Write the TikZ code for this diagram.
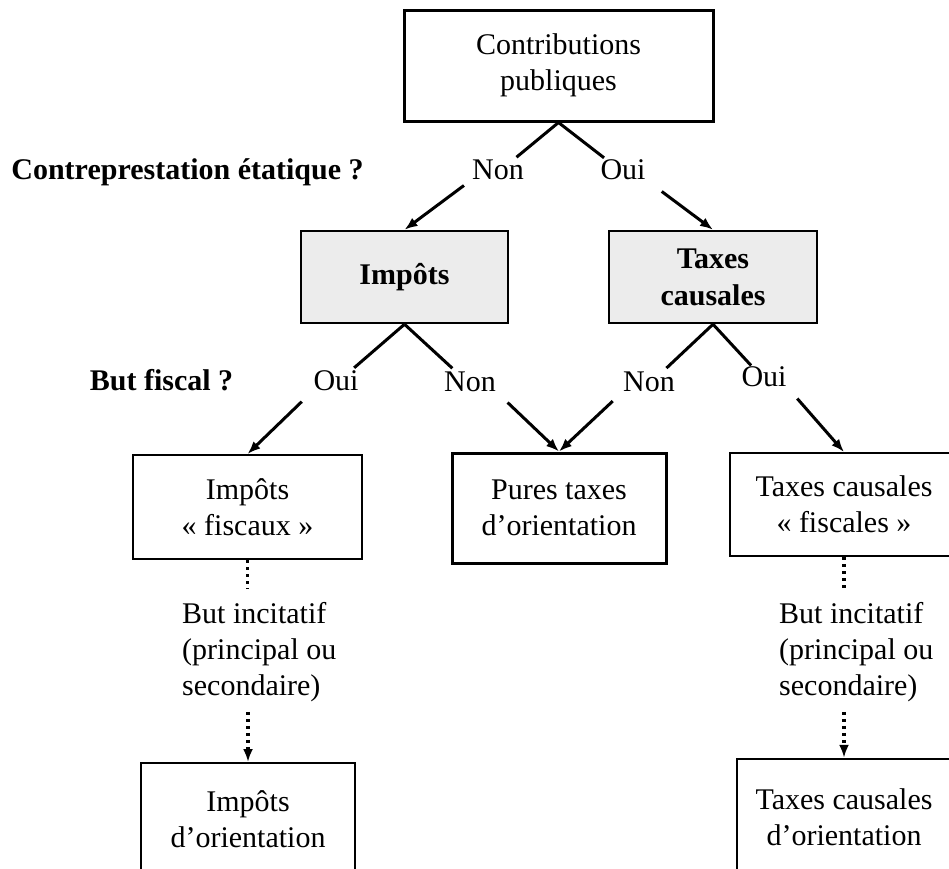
\documentclass[tikz,border=0pt]{standalone}
\usepackage{fontspec}
\setmainfont{Liberation Serif}
\usetikzlibrary{arrows.meta}

\begin{document}
\begin{tikzpicture}[x=1pt,y=-1pt,>={Latex[length=13pt,width=10pt]},
    font=\fontsize{30}{36}\selectfont,
    box/.style={draw,line width=2pt,align=center,inner sep=0pt},
    greybox/.style={box,line width=2.5pt,fill=gray!15,font=\fontsize{30}{37}\selectfont\bfseries},
    lab/.style={inner sep=0pt,text height=0.66em,text depth=0pt},
    question/.style={lab,font=\fontsize{30}{36}\selectfont\bfseries},
    branch/.style={line width=3pt,shorten >=24pt},
    arr/.style={->,line width=3pt},
    dots/.style={line width=3.5pt,dash pattern=on 3pt off 4pt}]
    \useasboundingbox (0,0) rectangle (949,868);
    \clip (0,0) rectangle (949,868);
    % boxes
    \node[box,line width=3pt,minimum width=309pt,minimum height=111pt] (cp) at (558.5,65.5) {Contributions\\publiques};
    \node[greybox,minimum width=207pt,minimum height=92pt] (imp) at (404.5,277) {Impôts};
    \node[greybox,minimum width=208pt,minimum height=92pt] (tax) at (713,277) {Taxes\\causales};
    \node[box,minimum width=229pt,minimum height=104pt] (impf) at (247.5,507) {Impôts\\« fiscaux »};
    \node[box,line width=3pt,minimum width=214pt,minimum height=110pt] (pure) at (559,508) {Pures taxes\\d’orientation};
    \node[box,minimum width=228pt,minimum height=103pt] (taxf) at (844,504.5) {Taxes causales\\« fiscales »};
    \node[box,minimum width=214pt,minimum height=112pt] (impo) at (248,819) {Impôts\\d’orientation};
    \node[box,line width=2.5pt,minimum width=214pt,minimum height=116pt] (taxo) at (844,817) {Taxes causales\\d’orientation};
    % questions and answers
    \node[question] (q1) at (187.5,176) {Contreprestation étatique ?};
    \node[lab] (n1) at (498,176) {Non};
    \node[lab] (o1) at (623,176) {Oui};
    \node[question] (q2) at (161.5,387) {But fiscal ?};
    \node[lab] (o2) at (336,387) {Oui};
    \node[lab] (n2) at (470,388) {Non};
    \node[lab] (n3) at (649,388) {Non};
    \node[lab] (o3) at (764,383) {Oui};
    \node[align=left,anchor=west,inner sep=0pt] (inc1) at (182,652) {But incitatif\\(principal ou\\secondaire)};
    \node[align=left,anchor=west,inner sep=0pt] (inc2) at (779,652) {But incitatif\\(principal ou\\secondaire)};
    % connectors
    \draw[branch] (cp.south) -- (n1.north);
    \draw[branch] (cp.south) -- (o1.north);
    \draw[arr,shorten <=10pt] (n1.south west) -- (imp.north);
    \draw[arr,shorten <=20pt] (o1.south east) -- (tax.north);
    \draw[branch] (imp.south) -- (o2.north);
    \draw[branch] (imp.south) -- (n2.north);
    \draw[branch] (tax.south) -- (n3.north);
    \draw[branch,shorten >=19pt] (tax.south) -- (o3.north);
    \draw[arr,shorten <=16pt] (o2.south west) -- (impf.north);
    \draw[arr,shorten <=16pt] (n2.south east) -- (pure.north);
    \draw[arr,shorten <=14pt] (n3.south west) -- (pure.north);
    \draw[arr,shorten <=16pt] (o3.south east) -- (taxf.north);
    \draw[dots,shorten >=14pt] (impf.south) -- (impf.south |- inc1.north);
    \draw[dots,->,shorten <=10pt] (impo.north |- inc1.south) -- (impo.north);
    \draw[dots,shorten >=14pt] (taxf.south) -- (taxf.south |- inc2.north);
    \draw[dots,->,shorten <=10pt] (taxo.north |- inc2.south) -- (taxo.north);
\end{tikzpicture}
\end{document}
